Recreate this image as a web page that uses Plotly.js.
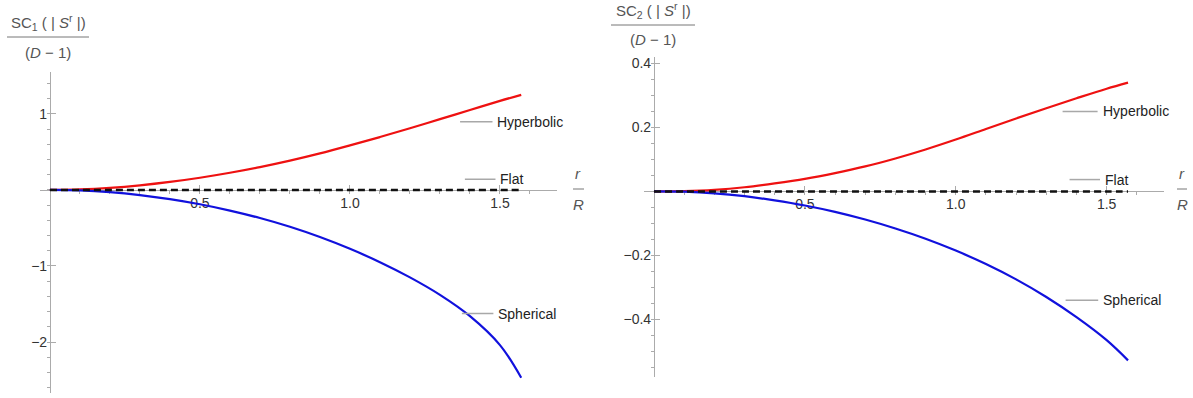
<!DOCTYPE html>
<html>
<head>
<meta charset="utf-8">
<script src="https://cdn.plot.ly/plotly-3.0.1.min.js"></script>
<style>html,body{margin:0;padding:0;background:#fff;}#chart{width:1193px;height:398px;}</style>
</head>
<body>
<div id="chart"></div>
<script>
// r / R sample positions
const r = [0, 0.1, 0.2, 0.3, 0.4, 0.5, 0.6, 0.7, 0.8, 0.9, 1.0, 1.1, 1.2, 1.3, 1.4, 1.5, 1.5708];

// Left panel: SC1(|S^r|)/(D-1)
const hyperbolic1 = [0, 0.007, 0.027, 0.06, 0.105, 0.16, 0.225, 0.3, 0.385, 0.48, 0.585, 0.695, 0.81, 0.93, 1.05, 1.17, 1.25];
const flat1       = [0, 0, 0, 0, 0, 0, 0, 0, 0, 0, 0, 0, 0, 0, 0, 0, 0];
const spherical1  = [0, -0.007, -0.03, -0.068, -0.121, -0.189, -0.272, -0.37, -0.485, -0.62, -0.775, -0.95, -1.15, -1.38, -1.66, -2.04, -2.47];

// Right panel: SC2(|S^r|)/(D-1)
const hyperbolic2 = [0, 0.001, 0.005, 0.013, 0.025, 0.039, 0.057, 0.078, 0.103, 0.131, 0.162, 0.195, 0.228, 0.26, 0.291, 0.321, 0.34];
const flat2       = [0, 0, 0, 0, 0, 0, 0, 0, 0, 0, 0, 0, 0, 0, 0, 0, 0];
const spherical2  = [0, -0.001, -0.006, -0.015, -0.028, -0.044, -0.064, -0.088, -0.116, -0.148, -0.185, -0.227, -0.275, -0.33, -0.393, -0.465, -0.528];

// Tick labels
const xTickVals = [0.5, 1.0, 1.5];
const xTickText = ["0.5", "1.0", "1.5"];
const y1TickVals = [-2, -1, 1];
const y1TickText = ["\u22122", "\u22121", "1"];
const y2TickVals = [-0.4, -0.2, 0.2, 0.4];
const y2TickText = ["\u22120.4", "\u22120.2", "0.2", "0.4"];
const seriesNames = ["Hyperbolic", "Flat", "Spherical"];

const W = 1193, H = 398;
const px = v => v / W;
const py = v => 1 - v / H;

const FONT = "Liberation Sans, Arial, sans-serif";
const AXC = "#ababab";

function range(a, b, s) { const out = []; for (let v = a; v <= b + 1e-9; v += s) out.push(+v.toFixed(4)); return out; }

const xRange = [-0.033, 1.69];
const x1Dom = [px(40), px(557)], x2Dom = [px(644), px(1164)];
const y1Range = [-2.67, 1.55], y2Range = [-0.58, 0.42];
const y1Dom = [py(393), py(72)], y2Dom = [py(377), py(57)];
const zeroPos = (dom, rg) => dom[0] + (0 - rg[0]) / (rg[1] - rg[0]) * (dom[1] - dom[0]);

function xax(dom, yDom, yRg) {
  return {
    domain: dom, range: xRange, anchor: 'free', position: zeroPos(yDom, yRg),
    showline: true, linecolor: AXC, linewidth: 1, zeroline: false, showgrid: false,
    ticks: 'inside', ticklen: 5, tickcolor: AXC, tickwidth: 1, layer: 'below traces',
    tickmode: 'array', tickvals: xTickVals, ticktext: xTickText,
    tickfont: {family: FONT, size: 14, color: '#333'},
    minor: {tickmode: 'array', tickvals: range(0.1, 1.6, 0.1), ticklen: 3, tickcolor: AXC, showgrid: false},
    fixedrange: true
  };
}
function yax(dom, rg, xDom, tv, tt, minorVals) {
  return {
    domain: dom, range: rg, anchor: 'free', position: zeroPos(xDom, xRange),
    showline: true, linecolor: AXC, linewidth: 1, zeroline: false, showgrid: false,
    ticks: 'inside', ticklen: 5, tickcolor: AXC, tickwidth: 1, layer: 'below traces',
    tickmode: 'array', tickvals: tv, ticktext: tt,
    tickfont: {family: FONT, size: 14, color: '#333'},
    minor: {tickmode: 'array', tickvals: minorVals, ticklen: 3, tickcolor: AXC, showgrid: false},
    fixedrange: true
  };
}

function tr(y, xa, ya, color, dash, name) {
  return {x: r, y: y, xaxis: xa, yaxis: ya, type: 'scatter', mode: 'lines', name: name,
          line: {color: color, width: dash ? 2.5 : 2.2, dash: dash || 'solid', shape: 'spline', smoothing: 1},
          hoverinfo: 'skip'};
}

const data = [
  tr(hyperbolic1, 'x', 'y', '#ee1111', null, seriesNames[0]),
  tr(spherical1, 'x', 'y', '#1111dd', null, seriesNames[2]),
  tr(flat1, 'x', 'y', '#111111', '7px,4px', seriesNames[1]),
  tr(hyperbolic2, 'x2', 'y2', '#ee1111', null, seriesNames[0]),
  tr(spherical2, 'x2', 'y2', '#1111dd', null, seriesNames[2]),
  tr(flat2, 'x2', 'y2', '#111111', '7px,4px', seriesNames[1])
];

// label positions (data coords): [x0, x1, y]
const lab1 = [[1.367, 1.475, 0.895], [1.383, 1.485, 0.14], [1.373, 1.478, -1.625]];
const lab2 = [[1.354, 1.47, 0.25], [1.377, 1.478, 0.037], [1.364, 1.472, -0.34]];

const shapes = [], annotations = [];
function addLabels(labs, xr, yr) {
  labs.forEach((l, i) => {
    shapes.push({type: 'line', xref: xr, yref: yr, x0: l[0], x1: l[1], y0: l[2], y1: l[2], line: {color: '#a8a8a8', width: 1.5}});
    annotations.push({xref: xr, yref: yr, x: l[1] + 0.01, y: l[2], xanchor: 'left', yanchor: 'middle', showarrow: false,
      text: seriesNames[i], font: {family: FONT, size: 14, color: '#222'}});
  });
}
addLabels(lab1, 'x', 'y');
addLabels(lab2, 'x2', 'y2');

// fraction-style axis titles
function fracTitle(cx, yNum, yLine, yDen, xl0, xl1, num, den, fs) {
  annotations.push({xref: 'paper', yref: 'paper', x: px(cx), y: py(yNum), xanchor: 'center', yanchor: 'middle', showarrow: false,
    text: num, font: {family: FONT, size: fs, color: '#555'}});
  annotations.push({xref: 'paper', yref: 'paper', x: px(cx), y: py(yDen), xanchor: 'center', yanchor: 'middle', showarrow: false,
    text: den, font: {family: FONT, size: fs, color: '#555'}});
  shapes.push({type: 'line', xref: 'paper', yref: 'paper', x0: px(xl0), x1: px(xl1), y0: py(yLine), y1: py(yLine), line: {color: '#777', width: 1}});
}
fracTitle(48, 22, 37, 53, 7, 89, 'SC<sub>1</sub> ( | <i>S</i><sup>r</sup> |)', '(<i>D</i> \u2212 1)', 15);
fracTitle(653, 11, 25, 39, 611, 695, 'SC<sub>2</sub> ( | <i>S</i><sup>r</sup> |)', '(<i>D</i> \u2212 1)', 15);
fracTitle(578, 173, 189, 205, 573, 584, '<i>r</i>', '<i>R</i>', 15);
fracTitle(1182, 173, 189, 205, 1177, 1187, '<i>r</i>', '<i>R</i>', 15);

const layout = {
  width: W, height: H, margin: {l: 0, r: 0, t: 0, b: 0},
  paper_bgcolor: '#fff', plot_bgcolor: '#fff', showlegend: false,
  xaxis: xax(x1Dom, y1Dom, y1Range),
  yaxis: yax(y1Dom, y1Range, x1Dom, y1TickVals, y1TickText, range(-2.6, 1.4, 0.2)),
  xaxis2: xax(x2Dom, y2Dom, y2Range),
  yaxis2: yax(y2Dom, y2Range, x2Dom, y2TickVals, y2TickText, range(-0.55, 0.4, 0.05)),
  shapes: shapes, annotations: annotations
};

Plotly.newPlot('chart', data, layout, {staticPlot: true, displayModeBar: false});
</script>
</body>
</html>
